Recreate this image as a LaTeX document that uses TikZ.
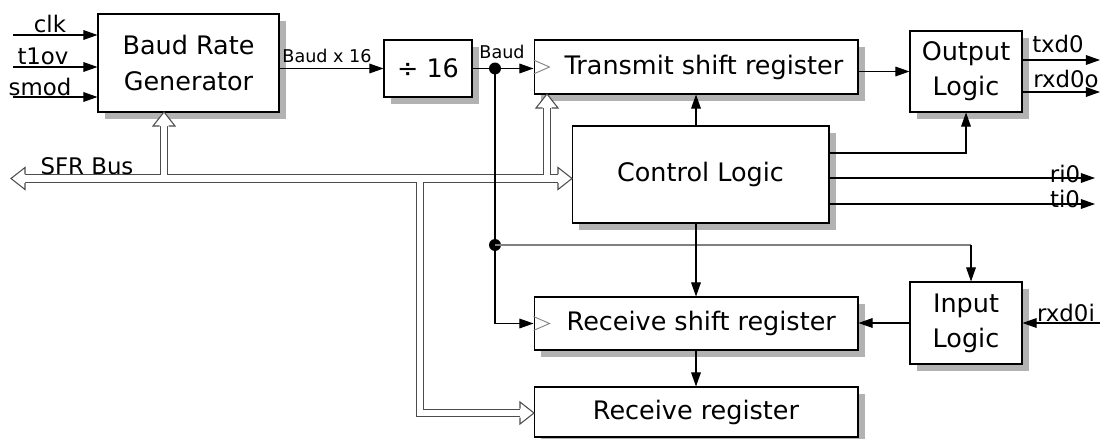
\documentclass[tikz,border=0pt]{standalone}
\usepackage{fontspec}
\setmainfont{DejaVu Sans}
\usetikzlibrary{arrows.meta,shadows}

\begin{document}
\begin{tikzpicture}[x=0.02cm, y=-0.02cm, line width=0.6pt, >={Triangle[length=8pt,width=5.5pt]},
	blk/.style={draw, fill=white, align=center, inner sep=0pt, font=\fontsize{14.5}{20}\selectfont,
		drop shadow={shadow xshift=4pt, shadow yshift=-4pt, fill=black!30, opacity=1}},
	lab/.style={font=\fontsize{13}{15}\selectfont, anchor=base, inner sep=0pt},
	tinylab/.style={font=\fontsize{10}{12}\selectfont, anchor=base, inner sep=0pt},
	busout/.style={line width=5.1pt, black!70},
	busin/.style={line width=3.9pt, white},
	clkin/.style={gray, line width=0.5pt}]
	\useasboundingbox (0,0) rectangle (1105,439);
	% blocks
	\node[blk, minimum width=3.62cm, minimum height=1.96cm] (brg) at (188.5,63) {Baud Rate\\Generator};
	\node[blk, minimum width=1.76cm, minimum height=1.14cm] (div) at (428,68.5) {÷ 16};
	\node[blk, minimum width=6.48cm, minimum height=1.08cm] (tsr) at (696,67) {\hspace{9pt}Transmit shift register};
	\node[blk, minimum width=2.24cm, minimum height=1.62cm] (outl) at (966,71.5) {Output\\Logic};
	\node[blk, minimum width=5.14cm, minimum height=1.94cm] (ctrl) at (700.5,174.5) {Control Logic};
	\node[blk, minimum width=6.48cm, minimum height=1.06cm] (rsr) at (696,323.5) {\hspace{6pt}Receive shift register};
	\node[blk, minimum width=6.48cm, minimum height=1.0cm] (rreg) at (696,412) {Receive register};
	\node[blk, minimum width=2.24cm, minimum height=1.64cm] (inl) at (966,323) {Input\\Logic};
	% SFR bus
	\foreach \st in {busout, busin} {
		\draw[\st] (25,178.5) -- (558,178.5);
		\draw[\st] (164,178.5) -- (164,126);
		\draw[\st] (547,178.5) -- (547,108);
		\draw[\st] (420,178.5) -- (420,413) -- (520,413);
	}
	\foreach \px/\py/\ang in {11/178.5/180, 164/112/90, 547/94/90, 572/178.5/0, 534/413/0}
		\filldraw[fill=white, draw=black!70, shift={(\px,\py)}, rotate=\ang] (-14,-4.5) -- (-14,-11) -- (0,0) -- (-14,11) -- (-14,4.5);
	\node[lab] (sfr) at (87,174) {SFR Bus};
	% inputs
	\coordinate (clk) at (13,35);
	\coordinate (tov) at (13,67);
	\coordinate (smod) at (13,97);
	\draw[->] (clk) -- (clk -| brg.west);
	\draw[->] (tov) -- (tov -| brg.west);
	\draw[->] (smod) -- (smod -| brg.west);
	\node[lab] (clklab) at (50,33) {clk};
	\node[lab] (tovlab) at (43,65) {t1ov};
	\node[lab] (smodlab) at (40,95) {smod};
	% baud clocks
	\draw[->] (div.west -| brg.east) -- (div.west);
	\node[tinylab] (x16lab) at (327,63) {Baud x 16};
	\coordinate (baud) at (495,68.5);
	\coordinate (rxclk) at (495,245);
	\coordinate (rxturn) at (971,245);
	\draw[->] (div.east) -- (div.east -| tsr.west);
	\node[tinylab] (baudlab) at (502,59) {Baud};
	\draw[->] (baud) -- (baud |- rsr.west) -- (rsr.west);
	\fill (baud) circle (3.4pt);
	\fill (rxclk) circle (3.4pt);
	\draw[gray] (rxclk) -- (rxturn);
	\draw[->] (rxturn) -- (rxturn |- inl.north);
	\draw[clkin] (tsr.west) ++(0,-7) -- ++(16,7) -- ++(-16,7);
	\draw[clkin] (rsr.west) ++(0,-7) -- ++(16,7) -- ++(-16,7);
	% control and data paths
	\draw[->] (outl.west -| tsr.east) -- (outl.west);
	\draw[->] (tsr.south |- ctrl.north) -- (tsr.south);
	\draw[->] (ctrl.east |- 0,153) -| (outl.south);
	\draw[->] (rsr.north |- ctrl.south) -- (rsr.north);
	\draw[->] (rsr.south) -- (rreg.north);
	\draw[->] (inl.west) -- (inl.west -| rsr.east);
	% outputs
	\coordinate (txd) at (1100,60);
	\coordinate (rxo) at (1100,92);
	\coordinate (ri) at (1095,178);
	\coordinate (ti) at (1095,204);
	\coordinate (rxi) at (1100,323);
	\draw[->] (txd -| outl.east) -- (txd);
	\draw[->] (rxo -| outl.east) -- (rxo);
	\draw[->] (ri -| ctrl.east) -- (ri);
	\draw[->] (ti -| ctrl.east) -- (ti);
	\draw[->] (rxi) -- (rxi -| inl.east);
	\node[lab] (txdlab) at (1058,53) {txd0};
	\node[lab] (rxolab) at (1066,88) {rxd0o};
	\node[lab] (rilab) at (1065,182) {ri0};
	\node[lab] (tilab) at (1065,207) {ti0};
	\node[lab] (rxilab) at (1066,321) {rxd0i};
\end{tikzpicture}
\end{document}
